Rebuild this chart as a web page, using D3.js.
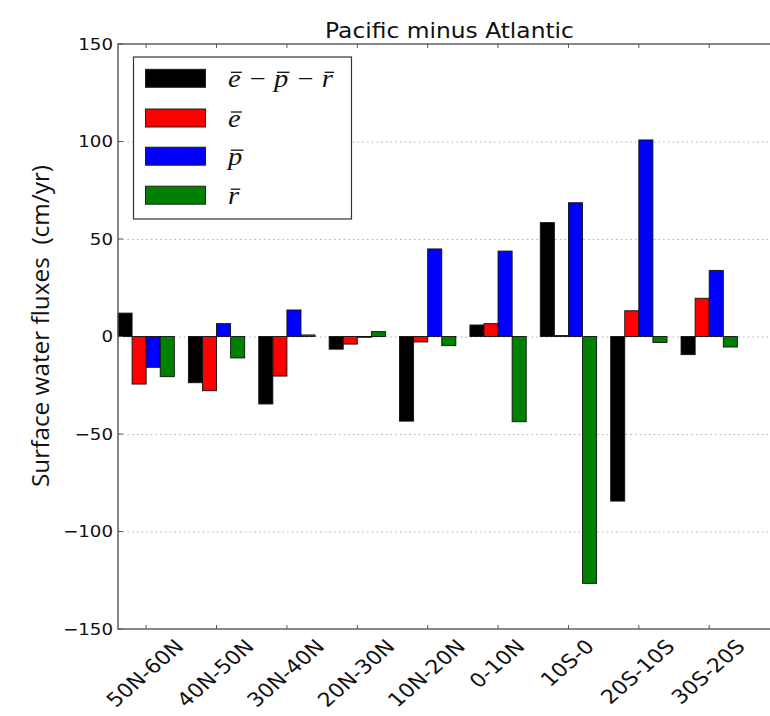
<!DOCTYPE html>
<html>
<head>
<meta charset="utf-8">
<script src="https://cdn.jsdelivr.net/npm/d3@7"></script>
<style>
  html, body { margin: 0; padding: 0; background: #fff; }
  svg { display: block; }
  text { font-family: "DejaVu Sans", sans-serif; white-space: pre; }
</style>
</head>
<body>
<svg id="chart" width="770" height="716"></svg>
<script>
// ---- data ----
const categories = ["50N-60N", "40N-50N", "30N-40N", "20N-30N", "10N-20N", "0-10N", "10S-0", "20S-10S", "30S-20S"];
const netFlux   = [12, -23.7, -34.6, -6.5, -43.4, 5.9, 58.4, -84.4, -9.3];      // e - p - r
const evap      = [-24.4, -27.8, -20.3, -3.9, -2.8, 6.6, 0.5, 13.2, 19.6];     // e
const precip    = [-15.8, 6.6, 13.6, -0.4, 44.9, 43.8, 68.6, 100.8, 33.9];      // p
const runoff    = [-20.6, -11, 0.8, 2.5, -4.7, -43.7, -126.6, -3.1, -5.4];      // r
const yTicks    = [-150, -100, -50, 0, 50, 100, 150];
const seriesColors = ["#000000", "#ff0000", "#0000ff", "#008000"];
const legendLabels = [
  [["e", true], [" \u2212 ", false], ["p", true], [" \u2212 ", false], ["r", true]],
  [["e", true]],
  [["p", true]],
  [["r", true]]
];
const titleText = "Pacific minus Atlantic";
const yLabelText = "Surface water fluxes  (cm/yr)";

(function () {
// ---- layout ----
const SX = 1.14; // horizontal stretch of the reference picture
const svg = d3.select("#chart");
const pL = 118, pR = 781, pT = 44, pB = 629;
const barW = 0.2;
const x = d3.scaleLinear().domain([0, 9.42]).range([pL, pR]);
const y = d3.scaleLinear().domain([-150, 150]).range([pB, pT]);

svg.append("rect").attr("width", 770).attr("height", 716).attr("fill", "#fff");

// grid
svg.append("g").selectAll("line").data(yTicks.filter(d => d > -150 && d < 150)).join("line")
  .attr("x1", pL).attr("x2", pR)
  .attr("y1", d => y(d) + 0.5).attr("y2", d => y(d) + 0.5)
  .attr("stroke", "#b0b0b0").attr("stroke-width", 1).attr("stroke-dasharray", "1.5,3.2");

// bars
const series = [netFlux, evap, precip, runoff];
const gBars = svg.append("g");
series.forEach((vals, j) => {
  gBars.append("g").selectAll("rect").data(vals).join("rect")
    .attr("x", (d, i) => x(i + j * barW))
    .attr("width", x(barW) - x(0))
    .attr("y", d => y(Math.max(0, d)))
    .attr("height", d => Math.abs(y(d) - y(0)))
    .attr("fill", seriesColors[j])
    .attr("stroke", "#111").attr("stroke-width", 0.9);
});

// frame
svg.append("rect").attr("x", pL).attr("y", pT).attr("width", pR - pL).attr("height", pB - pT)
  .attr("fill", "none").attr("stroke", "#555").attr("stroke-width", 1.4);

// x ticks (inward, bottom and top)
const tickPos = categories.map((c, i) => i + 2 * barW);
const gxt = svg.append("g");
tickPos.forEach(t => {
  gxt.append("line").attr("x1", x(t)).attr("x2", x(t)).attr("y1", pB).attr("y2", pB - 4).attr("stroke", "#555");
  gxt.append("line").attr("x1", x(t)).attr("x2", x(t)).attr("y1", pT).attr("y2", pT + 4).attr("stroke", "#555");
});
// y ticks
yTicks.forEach(v => {
  gxt.append("line").attr("x1", pL).attr("x2", pL + 5).attr("y1", y(v)).attr("y2", y(v)).attr("stroke", "#555");
  gxt.append("text")
    .attr("transform", `translate(113,${y(v)}) scale(${SX},1)`)
    .attr("text-anchor", "end").attr("dominant-baseline", "central")
    .attr("font-size", 16).attr("fill", "#111")
    .text(d3.format("d")(v));
});

// x tick labels, rotated 45
const xfs = 19.5;
categories.forEach((c, i) => {
  const g = svg.append("g");
  const t = g.append("text").attr("font-size", xfs).attr("fill", "#111")
    .attr("text-anchor", "middle").attr("dominant-baseline", "central").text(c);
  const L = t.node().getComputedTextLength();
  const h = (L + 0.73 * xfs) / Math.SQRT2;
  g.attr("transform", `translate(${x(tickPos[i]) - 1},${pB + 9 + h / 2}) scale(${SX},1) rotate(-45)`);
});

// title
svg.append("text").attr("transform", `translate(${(pL + pR) / 2},38) scale(${SX},1)`)
  .attr("text-anchor", "middle").attr("font-size", 20.5).attr("fill", "#111").text(titleText);

// y label
svg.append("text").attr("transform", `translate(49,326) scale(${SX},1) rotate(-90)`)
  .attr("text-anchor", "middle").attr("font-size", 21.5).attr("fill", "#111")
  .style("font-family", "'Open Sans', 'Noto Sans', sans-serif")
  .attr("textLength", 322).attr("lengthAdjust", "spacingAndGlyphs")
  .text(yLabelText);

// legend
const lg = svg.append("g");
lg.append("rect").attr("x", 133.5).attr("y", 57).attr("width", 218).attr("height", 162)
  .attr("fill", "#fff").attr("stroke", "#333").attr("stroke-width", 1.2);
const patchY = [78.3, 118, 156.2, 195.2];
legendLabels.forEach((parts, k) => {
  lg.append("rect").attr("x", 145.5).attr("y", patchY[k] - 9).attr("width", 60).attr("height", 18)
    .attr("fill", seriesColors[k]).attr("stroke", "#222").attr("stroke-width", 1);
  const g = lg.append("g").attr("transform", `translate(228,${patchY[k] + 9}) scale(${SX},1)`);
  const txt = g.append("text")
    .style("font-family", "'Liberation Serif', 'DejaVu Serif', serif").style("font-style", "italic")
    .attr("font-size", 25).attr("fill", "#111");
  const str = parts.map(p => p[0]).join("");
  txt.text(str);
  let idx = 0;
  parts.forEach(p => {
    if (p[1]) {
      const ext = txt.node().getExtentOfChar(idx);
      g.append("line").attr("x1", ext.x + 2.5).attr("x2", ext.x + ext.width + 1)
        .attr("y1", -15).attr("y2", -15).attr("stroke", "#111").attr("stroke-width", 1.3);
    }
    idx += p[0].length;
  });
});
})();
</script>
</body>
</html>
